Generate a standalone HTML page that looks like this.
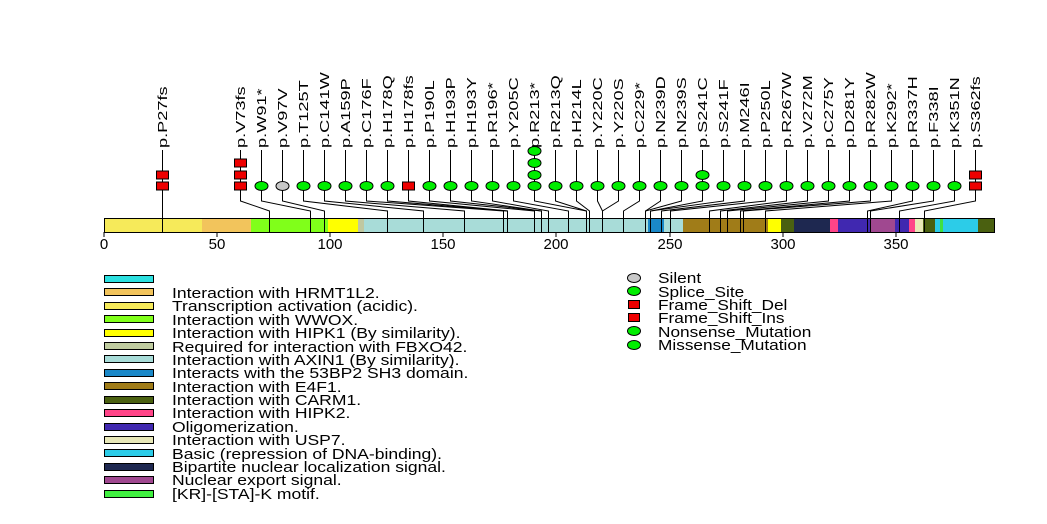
<!DOCTYPE html>
<html><head><meta charset="utf-8"><style>
html,body{margin:0;padding:0;background:#fff;width:1047px;height:524px;overflow:hidden}
svg{display:block;font-family:"Liberation Sans",sans-serif}
</style></head><body>
<svg id="s" width="1047" height="524" viewBox="0 0 1047 524" xmlns="http://www.w3.org/2000/svg">
<g id="lines" stroke="#000" stroke-width="1" fill="none"></g>
<g id="bar" stroke="none">
<rect x="104" y="218" width="98" height="14" fill="#f6ea5a"/>
<rect x="202" y="218" width="49" height="14" fill="#f2c45c"/>
<rect x="251" y="218" width="77" height="14" fill="#80ff1a"/>
<rect x="328" y="218" width="30" height="14" fill="#ffff00"/>
<rect x="358" y="218" width="6" height="14" fill="#c0c8a0"/>
<rect x="364" y="218" width="284" height="14" fill="#a8dcd8"/>
<rect x="648" y="218" width="16" height="14" fill="#1a88c8"/>
<rect x="664" y="218" width="19" height="14" fill="#a8dcd8"/>
<rect x="683" y="218" width="85" height="14" fill="#a07c18"/>
<rect x="768" y="218" width="13" height="14" fill="#ffff00"/>
<rect x="781" y="218" width="13" height="14" fill="#4a6010"/>
<rect x="794" y="218" width="36" height="14" fill="#1e2850"/>
<rect x="830" y="218" width="8" height="14" fill="#ff4488"/>
<rect x="838" y="218" width="32" height="14" fill="#4028b0"/>
<rect x="870" y="218" width="25" height="14" fill="#a04890"/>
<rect x="895" y="218" width="14" height="14" fill="#4028b0"/>
<rect x="909" y="218" width="6" height="14" fill="#ff4488"/>
<rect x="915" y="218" width="8" height="14" fill="#e8e8b8"/>
<rect x="923" y="218" width="12" height="14" fill="#4a6010"/>
<rect x="935" y="218" width="5" height="14" fill="#2ccce8"/>
<rect x="940" y="218" width="3" height="14" fill="#40e040"/>
<rect x="943" y="218" width="35" height="14" fill="#2ccce8"/>
<rect x="978" y="218" width="17" height="14" fill="#4a6010"/>
</g>
<g id="vl" stroke="#000" stroke-width="1"></g>
<rect x="104.5" y="218.5" width="890" height="14" fill="none" stroke="#000"/>
<g id="marks" stroke="#000" stroke-width="1"></g>
<g font-size="13" fill="#000" id="labels">
<text transform="translate(167,148) rotate(-90) scale(1.4,1)">p.P27fs</text>
<text transform="translate(245,148) rotate(-90) scale(1.4,1)">p.V73fs</text>
<text transform="translate(266,148) rotate(-90) scale(1.4,1)">p.W91*</text>
<text transform="translate(287,148) rotate(-90) scale(1.4,1)">p.V97V</text>
<text transform="translate(308,148) rotate(-90) scale(1.4,1)">p.T125T</text>
<text transform="translate(329,148) rotate(-90) scale(1.4,1)">p.C141W</text>
<text transform="translate(350,148) rotate(-90) scale(1.4,1)">p.A159P</text>
<text transform="translate(371,148) rotate(-90) scale(1.4,1)">p.C176F</text>
<text transform="translate(392,148) rotate(-90) scale(1.4,1)">p.H178Q</text>
<text transform="translate(413,148) rotate(-90) scale(1.4,1)">p.H178fs</text>
<text transform="translate(434,148) rotate(-90) scale(1.4,1)">p.P190L</text>
<text transform="translate(455,148) rotate(-90) scale(1.4,1)">p.H193P</text>
<text transform="translate(476,148) rotate(-90) scale(1.4,1)">p.H193Y</text>
<text transform="translate(497,148) rotate(-90) scale(1.4,1)">p.R196*</text>
<text transform="translate(518,148) rotate(-90) scale(1.4,1)">p.Y205C</text>
<text transform="translate(539,148) rotate(-90) scale(1.4,1)">p.R213*</text>
<text transform="translate(560,148) rotate(-90) scale(1.4,1)">p.R213Q</text>
<text transform="translate(581,148) rotate(-90) scale(1.4,1)">p.H214L</text>
<text transform="translate(602,148) rotate(-90) scale(1.4,1)">p.Y220C</text>
<text transform="translate(623,148) rotate(-90) scale(1.4,1)">p.Y220S</text>
<text transform="translate(644,148) rotate(-90) scale(1.4,1)">p.C229*</text>
<text transform="translate(665,148) rotate(-90) scale(1.4,1)">p.N239D</text>
<text transform="translate(686,148) rotate(-90) scale(1.4,1)">p.N239S</text>
<text transform="translate(707,148) rotate(-90) scale(1.4,1)">p.S241C</text>
<text transform="translate(728,148) rotate(-90) scale(1.4,1)">p.S241F</text>
<text transform="translate(749,148) rotate(-90) scale(1.4,1)">p.M246I</text>
<text transform="translate(770,148) rotate(-90) scale(1.4,1)">p.P250L</text>
<text transform="translate(791,148) rotate(-90) scale(1.4,1)">p.R267W</text>
<text transform="translate(812,148) rotate(-90) scale(1.4,1)">p.V272M</text>
<text transform="translate(833,148) rotate(-90) scale(1.4,1)">p.C275Y</text>
<text transform="translate(854,148) rotate(-90) scale(1.4,1)">p.D281Y</text>
<text transform="translate(875,148) rotate(-90) scale(1.4,1)">p.R282W</text>
<text transform="translate(896,148) rotate(-90) scale(1.4,1)">p.K292*</text>
<text transform="translate(917,148) rotate(-90) scale(1.4,1)">p.R337H</text>
<text transform="translate(938,148) rotate(-90) scale(1.4,1)">p.F338I</text>
<text transform="translate(959,148) rotate(-90) scale(1.4,1)">p.K351N</text>
<text transform="translate(980,148) rotate(-90) scale(1.4,1)">p.S362fs</text>
</g>
<g font-size="15" text-anchor="middle">
<text x="104" y="249">0</text><text x="217" y="249">50</text><text x="330" y="249">100</text>
<text x="443" y="249">150</text><text x="556" y="249">200</text><text x="670" y="249">250</text>
<text x="783" y="249">300</text><text x="896" y="249">350</text>
</g>
<g stroke="#000"><line x1="104" y1="232" x2="104" y2="237"/><line x1="217" y1="232" x2="217" y2="237"/><line x1="330" y1="232" x2="330" y2="237"/><line x1="443" y1="232" x2="443" y2="237"/><line x1="556" y1="232" x2="556" y2="237"/><line x1="670" y1="232" x2="670" y2="237"/><line x1="783" y1="232" x2="783" y2="237"/><line x1="896" y1="232" x2="896" y2="237"/></g>
<g stroke="#000" stroke-width="1">
<rect x="104.5" y="275.5" width="49" height="7" fill="#2ce0e0"/>
<rect x="104.5" y="288.5" width="49" height="7" fill="#f2c45c"/>
<rect x="104.5" y="302.5" width="49" height="7" fill="#f6ea5a"/>
<rect x="104.5" y="315.5" width="49" height="7" fill="#80ff1a"/>
<rect x="104.5" y="329.5" width="49" height="7" fill="#ffff00"/>
<rect x="104.5" y="342.5" width="49" height="7" fill="#c0cca0"/>
<rect x="104.5" y="355.5" width="49" height="7" fill="#a8dcd8"/>
<rect x="104.5" y="369.5" width="49" height="7" fill="#1a88c8"/>
<rect x="104.5" y="382.5" width="49" height="7" fill="#a07c18"/>
<rect x="104.5" y="396.5" width="49" height="7" fill="#4a6010"/>
<rect x="104.5" y="409.5" width="49" height="7" fill="#ff4488"/>
<rect x="104.5" y="423.5" width="49" height="7" fill="#4028b0"/>
<rect x="104.5" y="436.5" width="49" height="7" fill="#e8e8b8"/>
<rect x="104.5" y="449.5" width="49" height="7" fill="#2ccce8"/>
<rect x="104.5" y="463.5" width="49" height="7" fill="#1e2850"/>
<rect x="104.5" y="476.5" width="49" height="7" fill="#a04890"/>
<rect x="104.5" y="490.5" width="49" height="7" fill="#40f040"/>
</g>
<g font-size="15" transform="translate(172,0) scale(1.17,1)">
<text x="0" y="298">Interaction with HRMT1L2.</text>
<text x="0" y="311">Transcription activation (acidic).</text>
<text x="0" y="325">Interaction with WWOX.</text>
<text x="0" y="338">Interaction with HIPK1 (By similarity).</text>
<text x="0" y="352">Required for interaction with FBXO42.</text>
<text x="0" y="365">Interaction with AXIN1 (By similarity).</text>
<text x="0" y="378">Interacts with the 53BP2 SH3 domain.</text>
<text x="0" y="392">Interaction with E4F1.</text>
<text x="0" y="405">Interaction with CARM1.</text>
<text x="0" y="418">Interaction with HIPK2.</text>
<text x="0" y="432">Oligomerization.</text>
<text x="0" y="445">Interaction with USP7.</text>
<text x="0" y="459">Basic (repression of DNA-binding).</text>
<text x="0" y="472">Bipartite nuclear localization signal.</text>
<text x="0" y="485">Nuclear export signal.</text>
<text x="0" y="499">[KR]-[STA]-K motif.</text>
</g>
<g stroke="#000" stroke-width="1">
<ellipse cx="634" cy="278" rx="6.5" ry="4.5" fill="#c8c8c8"/>
<ellipse cx="634" cy="291" rx="6.5" ry="4.5" fill="#00ee00"/>
<rect x="628.5" y="300.5" width="11" height="8" fill="#ee0000"/>
<rect x="628.5" y="313.5" width="11" height="8" fill="#ee0000"/>
<ellipse cx="634" cy="331" rx="6.5" ry="4.5" fill="#00ee00"/>
<ellipse cx="634" cy="345" rx="6.5" ry="4.5" fill="#00ee00"/>
</g>
<g font-size="15" transform="translate(658,0) scale(1.15,1)">
<text x="0" y="283">Silent</text>
<text x="0" y="297">Splice_Site</text>
<text x="0" y="310">Frame_Shift_Del</text>
<text x="0" y="323">Frame_Shift_Ins</text>
<text x="0" y="337">Nonsense_Mutation</text>
<text x="0" y="350">Missense_Mutation</text>
</g>
</svg>
<script>
var NS="http://www.w3.org/2000/svg";
var aa=[27,73,91,97,125,141,159,176,178,178,190,193,193,196,205,213,213,214,220,220,229,239,239,241,241,246,250,267,272,275,281,282,292,337,338,351,362];
var type=["r2","r3","g","s","g","g","g","g","g","r1","g","g","g","g","g","g4","g","g","g","g","g","g","g","g2","g","g","g","g","g","g","g","g","g","g","g","g","r2"];
var L=document.getElementById("lines"),V=document.getElementById("vl"),M=document.getElementById("marks");
function el(p,n,a){var e=document.createElementNS(NS,n);for(var k in a)e.setAttribute(k,a[k]);p.appendChild(e);}
for(var i=0;i<aa.length;i++){
 var cx=i==0?162.5:240.5+21*(i-1);
 var px=Math.round(104+2.265*aa[i])+0.5; if(i==0)px=162.5;
 el(L,"polyline",{points:cx+",150 "+cx+",201 "+px+",211 "+px+",218"});
 el(V,"line",{x1:px,y1:218,x2:px,y2:232});
 var t=type[i],ys=[186,175,163,151];
 var n=t=="r3"?3:t=="r2"?2:t=="g4"?4:t=="g2"?2:1;
 for(var j=0;j<n;j++){var y=ys[j];
  if(t[0]=="r") el(M,"rect",{x:cx-6,y:y-4,width:12,height:8,fill:"#ee0000"});
  else el(M,"ellipse",{cx:cx,cy:y,rx:6.5,ry:4.5,fill:t=="s"?"#c8c8c8":"#00ee00"});
 }
}
</script>
</body></html>
